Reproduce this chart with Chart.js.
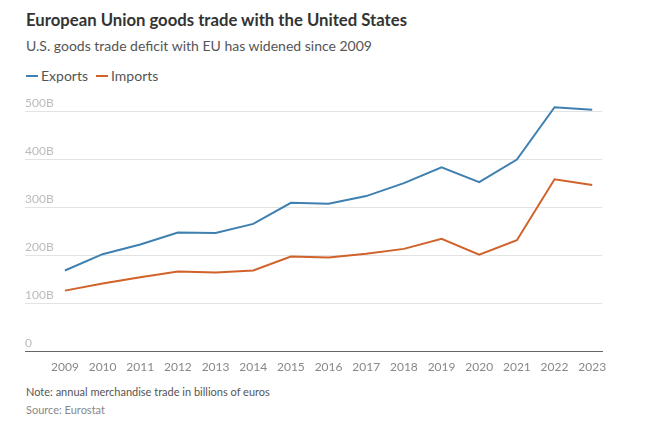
<!DOCTYPE html>
<html>
<head>
<meta charset="utf-8">
<script src="https://cdn.jsdelivr.net/npm/chart.js@4.4.0/dist/chart.umd.min.js"></script>
<style>
  body { margin: 0; width: 650px; height: 422px; background: #fff; font-family: 'Lato', 'Noto Sans', sans-serif; position: relative; overflow: hidden; }
  .title { position: absolute; left: 26px; top: 10px; font-size: 16.7px; font-weight: 700; color: #333; }
  .subtitle { position: absolute; left: 26px; top: 37px; font-size: 14px; color: #555; }
  .legend { position: absolute; left: 26px; top: 67px; font-size: 14px; color: #555; display: flex; align-items: center; }
  .legend span.sw { display: inline-block; width: 12px; height: 2px; margin-right: 3px; }
  .legend span.item { margin-right: 8px; }
  .note { position: absolute; left: 26px; top: 385px; font-size: 11px; color: #555; }
  .source { position: absolute; left: 26px; top: 403px; font-size: 11px; color: #888; }
  #wrap { position: absolute; left: 25px; top: 90px; width: 600px; height: 295px; }
</style>
</head>
<body>
<div class="title">European Union goods trade with the United States</div>
<div class="subtitle">U.S. goods trade deficit with EU has widened since 2009</div>
<div class="legend">
  <span class="sw" style="background:#3e80b0"></span><span class="item">Exports</span>
  <span class="sw" style="background:#d0622a"></span><span class="item">Imports</span>
</div>
<div id="wrap"><canvas id="chart"></canvas></div>
<div class="note">Note: annual merchandise trade in billions of euros</div>
<div class="source">Source: Eurostat</div>

<script>
// 年（カテゴリ）
const years = [2009, 2010, 2011, 2012, 2013, 2014, 2015, 2016, 2017, 2018, 2019, 2020, 2021, 2022, 2023];
// EU -> US 輸出（十億ユーロ）
const exportsEUR = [169, 203, 223, 248, 247, 266, 310, 308, 324, 351, 384, 353, 400, 509, 504];
// US -> EU 輸入（十億ユーロ）
const importsEUR = [127, 142, 155, 167, 165, 169, 198, 196, 204, 214, 235, 202, 232, 359, 347];
// Y軸の目盛り
const yTicks = [0, 100, 200, 300, 400, 500];

document.addEventListener('DOMContentLoaded', () => {
  const toPoints = arr => arr.map((v, i) => ({ x: years[i], y: v }));
  const ctx = document.getElementById('chart').getContext('2d');

  new Chart(ctx, {
    type: 'line',
    data: {
      datasets: [
        { label: 'Exports', data: toPoints(exportsEUR), borderColor: '#3e80b0', borderWidth: 2, pointRadius: 0, tension: 0 },
        { label: 'Imports', data: toPoints(importsEUR), borderColor: '#d0622a', borderWidth: 2, pointRadius: 0, tension: 0 }
      ]
    },
    options: {
      responsive: true,
      maintainAspectRatio: false,
      animation: false,
      layout: { padding: { top: 5.5, right: 23, bottom: 3, left: 0 } },
      plugins: { legend: { display: false }, tooltip: { enabled: false } },
      scales: {
        x: {
          type: 'linear',
          min: 2007.94,
          max: 2023.26,
          afterBuildTicks: axis => { axis.ticks = years.map(v => ({ value: v })); },
          grid: { display: false, drawTicks: false },
          border: { display: true, color: '#666', width: 1 },
          ticks: {
            autoSkip: false,
            maxRotation: 0,
            padding: 8,
            color: '#888',
            font: { family: 'Lato', size: 12 },
            callback: v => String(v)
          }
        },
        y: {
          min: 0,
          max: 530,
          afterBuildTicks: axis => { axis.ticks = yTicks.map(v => ({ value: v })); },
          grid: {
            drawTicks: false,
            color: c => c.tick && c.tick.value === 0 ? '#666' : '#e3e3e3',
            lineWidth: 1
          },
          border: { display: false },
          ticks: {
            mirror: true,
            padding: 0,
            labelOffset: -8,
            color: '#bbb',
            font: { family: 'Lato', size: 12 },
            callback: v => v === 0 ? '0' : v + 'B'
          }
        }
      }
    }
  });
});
</script>
</body>
</html>
